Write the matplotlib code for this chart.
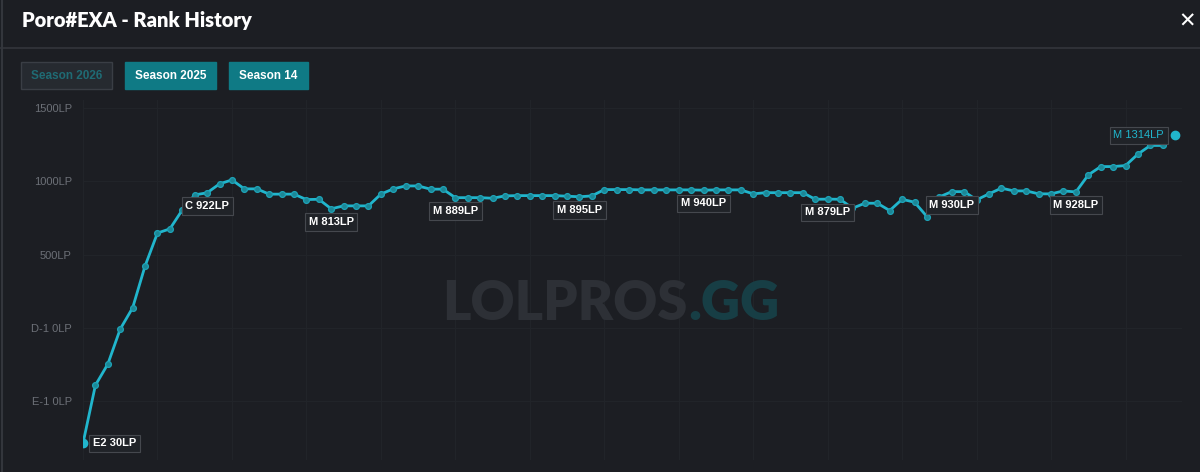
import matplotlib.pyplot as plt
from matplotlib.patches import Rectangle
from matplotlib.ticker import FixedLocator, FuncFormatter

# ---- data (LP on a continuous scale, master 0 = D-1 0LP) ----
games = list(range(89))
lp = [-786, -390, -246, -7, 138, 423, 648, 676, 805, 908,
      922, 983, 1010, 949, 949, 913, 913, 913, 876, 878,
      813, 833, 833, 833, 913, 949, 969, 969, 947, 947,
      889, 889, 889, 885, 901, 903, 903, 903, 903, 899,
      895, 901, 944, 944, 944, 942, 942, 942, 942, 942,
      940, 942, 942, 942, 915, 923, 923, 923, 923, 878,
      879, 878, 817, 851, 851, 801, 878, 858, 760, 894,
      930, 930, 874, 915, 954, 935, 935, 915, 915, 935,
      928, 1044, 1101, 1101, 1108, 1186, 1245, 1245, 1314]
label_idx = [0, 10, 20, 30, 40, 50, 60, 70, 80]
rank_labels = ['E2 30LP', 'C 922LP', 'M 813LP', 'M 889LP', 'M 895LP',
               'M 940LP', 'M 879LP', 'M 930LP', 'M 928LP']
current_label = 'M 1314LP'
ytick_vals = [-500, 0, 500, 1000, 1500]
ytick_names = ['E-1 0LP', 'D-1 0LP', '500LP', '1000LP', '1500LP']
seasons = ['Season 2026', 'Season 2025', 'Season 14']

BG = '#1c1e23'
CYAN = '#21b6cd'
TEAL = '#0f7a85'
W, H = 1200, 472

plt.rcParams['font.family'] = ['Liberation Sans', 'DejaVu Sans']


def fx(x):
    return x / W


def fy(y):
    return 1 - y / H


fig = plt.figure(figsize=(12, 4.72), dpi=100, facecolor=BG)

# header
fig.text(fx(22), fy(21), 'Poro#EXA - Rank History', color='white', fontsize=14.5,
         fontweight='heavy', family=['Lato', 'DejaVu Sans'], va='center', ha='left')
fig.text(fx(1187), fy(22), '\u2715', color='white', fontsize=15, fontweight='bold',
         va='center', ha='center', family=['DejaVu Sans'])
fig.add_artist(plt.Line2D([0, 1], [fy(48), fy(48)], color='#33363c', lw=1.2,
                          transform=fig.transFigure))
fig.add_artist(plt.Line2D([fx(1.5), fx(1.5)], [0, 1], color='#33363c', lw=1.5,
                          transform=fig.transFigure))

# season buttons
btn_x = [21, 125, 229]
btn_w = [91, 91, 79]
for i, name in enumerate(seasons):
    active = i > 0
    fig.add_artist(Rectangle((fx(btn_x[i]), fy(89)), btn_w[i] / W, 27 / H,
                             transform=fig.transFigure,
                             facecolor=TEAL if active else '#262a30',
                             edgecolor=TEAL if active else '#3a3e45', lw=1))
    fig.text(fx(btn_x[i] + btn_w[i] / 2), fy(76), name,
             color='white' if active else '#1f6b74', fontsize=8.5,
             fontweight='bold', ha='center', va='center')

# chart
ax = fig.add_axes([fx(83), fy(460), (1182 - 83) / W, 360 / H])
ax.set_facecolor(BG)
ax.set_xlim(0, 88.55)
ax.set_ylim(-900, 1555)

# watermark
fig.text(fx(688), fy(320), 'LOLPROS', color='#2d3036', fontsize=39, fontweight='heavy',
         family=['Lato', 'DejaVu Sans'], ha='right', va='baseline', zorder=0)
fig.text(fx(688), fy(320), '.GG', color='#173e45', fontsize=39, fontweight='heavy',
         family=['Lato', 'DejaVu Sans'], ha='left', va='baseline', zorder=0)

ax.yaxis.set_major_locator(FixedLocator(ytick_vals))
ax.yaxis.set_major_formatter(FuncFormatter(lambda v, p: ytick_names[ytick_vals.index(v)]
                                           if v in ytick_vals else ''))
ax.xaxis.set_major_locator(FixedLocator(list(range(0, 89, 6))))
ax.grid(True, color='#212429', lw=0.8)
ax.tick_params(axis='y', length=0, pad=8, labelsize=8, labelcolor='#6c7077')
ax.tick_params(axis='x', length=0, labelbottom=False)
for s in ax.spines.values():
    s.set_visible(False)

ax.plot(games[:-1], lp[:-1], color=CYAN, lw=2, marker='o', ms=4.2,
        mfc='#1c8796', mec='#1ea3b7', mew=0.9, zorder=3)
ax.plot(games[0], lp[0], 'o', color=CYAN, ms=6, zorder=4)
ax.plot(games[-1], lp[-1], 'o', color=CYAN, ms=6, zorder=4)

box = dict(boxstyle='square,pad=0.33', fc='#202328', ec='#45484e', lw=0.8)
for i, txt in zip(label_idx, rank_labels):
    if i == 0:
        off, ha = (7, 0), 'left'
    else:
        off, ha = (0, -9.5), 'center'
    ax.annotate(txt, (games[i], lp[i]), xytext=off, textcoords='offset points',
                ha=ha, va='center', color='white', fontsize=8, fontweight='bold',
                bbox=box, zorder=5)
ax.annotate(current_label, (games[-1], lp[-1]), xytext=(-8, 0),
            textcoords='offset points', ha='right', va='center', color=CYAN,
            fontsize=8, bbox=box, zorder=5)

fig.savefig('out.png', dpi=100, facecolor=BG)
